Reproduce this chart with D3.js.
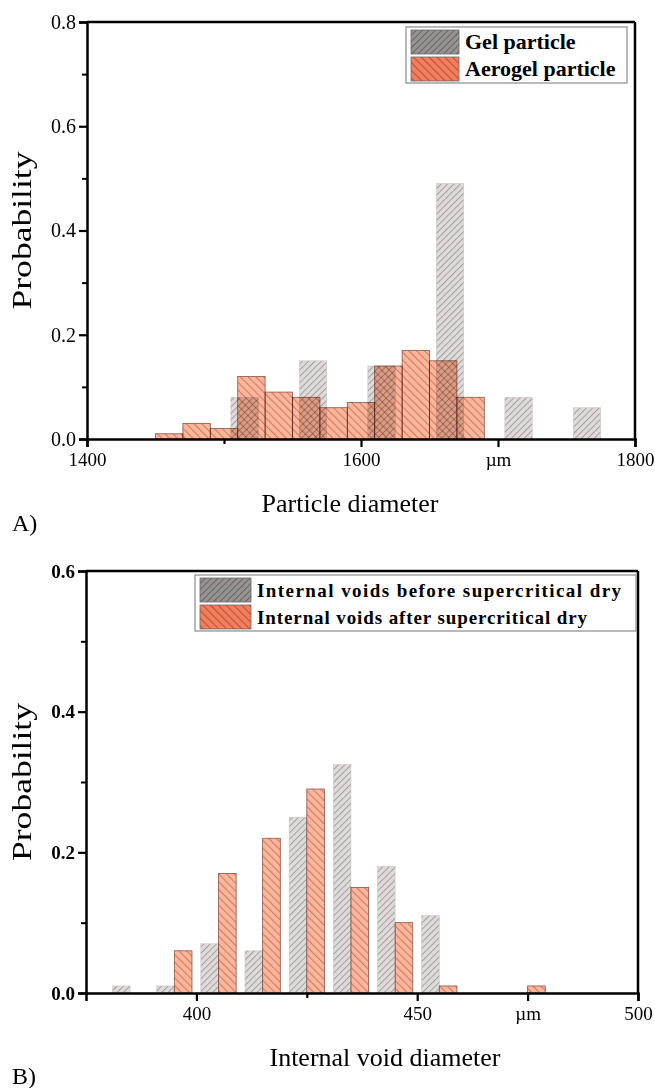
<!DOCTYPE html>
<html>
<head>
<meta charset="utf-8">
<script src="https://cdn.jsdelivr.net/npm/d3@7"></script>
<style>
  body { margin: 0; background: #fff; }
  svg { display: block; font-family: "Liberation Serif", "DejaVu Serif", serif; }
  .axis path, .axis line { stroke: #000; }
  .axis text { fill: #000; }
</style>
</head>
<body>
<div id="chart"></div>
<script>
// ---------- data ----------
// A) particle diameter
var gelCenters = [1515, 1565, 1615, 1665, 1715, 1765];
var gelProb = [0.08, 0.15, 0.14, 0.49, 0.08, 0.06];
var aeroStarts = [1450, 1470, 1490, 1510, 1530, 1550, 1570, 1590, 1610, 1630, 1650, 1670];
var aeroProb = [0.01, 0.03, 0.02, 0.12, 0.09, 0.08, 0.06, 0.07, 0.14, 0.17, 0.15, 0.08];
var xTicksA = [1400, 1500, 1600, 1700, 1800];
var xLabelsA = ["1400", "", "1600", "\u00b5m", "1800"];
var yTicksA = [0, 0.2, 0.4, 0.6, 0.8];

// B) internal void diameter
var voidBins = [385, 395, 405, 415, 425, 435, 445, 455, 465, 475];
var voidBefore = [0.01, 0.01, 0.07, 0.06, 0.25, 0.325, 0.18, 0.11, 0, 0];
var voidAfter = [0, 0.06, 0.17, 0.22, 0.29, 0.15, 0.10, 0.01, 0, 0.01];
var xTicksB = [400, 425, 450, 475, 500];
var xLabelsB = ["400", "", "450", "\u00b5m", "500"];
var yTicksB = [0, 0.2, 0.4, 0.6];

var W = 655, H = 1088;
var svg = d3.select("#chart").append("svg").attr("width", W).attr("height", H);

// hatch patterns
var defs = svg.append("defs");
function hatch(id, bg, line, size, angle, lw) {
    var p = defs.append("pattern")
        .attr("id", id)
        .attr("width", size).attr("height", size)
        .attr("patternUnits", "userSpaceOnUse")
        .attr("patternTransform", "rotate(" + angle + ")");
    p.append("rect").attr("width", size).attr("height", size).attr("fill", bg);
    p.append("line").attr("x1", 0.5).attr("y1", 0).attr("x2", 0.5).attr("y2", size)
        .attr("stroke", line).attr("stroke-width", lw);
}
hatch("grayHatch", "#dedbda", "#a29e9d", 4.5, 45, 1);
hatch("orangeHatch", "#f8b89f", "#dc7658", 5.5, -45, 1.2);
hatch("grayKey", "#979393", "#666262", 4.5, 45, 1);
hatch("orangeKey", "#f27e5d", "#b9533a", 5.5, -45, 1.2);

function panel(cfg) {
    var g = svg.append("g").attr("transform", "translate(" + cfg.left + "," + cfg.top + ")");
    var x = d3.scaleLinear().domain(cfg.xDomain).range([0, cfg.width]);
    var y = d3.scaleLinear().domain(cfg.yDomain).range([cfg.height, 0]);

    // bars
    g.selectAll(".grayBar").data(cfg.gray).enter().append("rect")
        .attr("class", "grayBar")
        .attr("x", function(d) { return x(d.x0); })
        .attr("width", function(d) { return x(d.x1) - x(d.x0); })
        .attr("y", function(d) { return y(d.p); })
        .attr("height", function(d) { return y(0) - y(d.p); })
        .attr("fill", "url(#grayHatch)")
        .attr("stroke", "#cbc7c6").attr("stroke-width", 0.6);

    g.selectAll(".orangeBar").data(cfg.orange).enter().append("rect")
        .attr("class", "orangeBar")
        .attr("x", function(d) { return x(d.x0); })
        .attr("width", function(d) { return x(d.x1) - x(d.x0); })
        .attr("y", function(d) { return y(d.p); })
        .attr("height", function(d) { return y(0) - y(d.p); })
        .attr("fill", "url(#orangeHatch)")
        .attr("stroke", "#8c5446").attr("stroke-width", 0.8)
        .style("mix-blend-mode", "multiply");

    // frame top / right
    g.append("line").attr("x1", 0).attr("x2", cfg.width).attr("y1", 0).attr("y2", 0)
        .attr("stroke", "#000").attr("stroke-width", 2.5);
    g.append("line").attr("x1", cfg.width).attr("x2", cfg.width).attr("y1", 0).attr("y2", cfg.height)
        .attr("stroke", "#000").attr("stroke-width", 2.5);

    // minor ticks
    g.append("g").attr("class", "axis")
        .call(d3.axisLeft(y).tickValues(cfg.yMinor).tickSize(5).tickFormat(""))
        .call(function(s) { s.select(".domain").remove(); s.selectAll("line").attr("stroke-width", 2); });

    // y axis
    var ya = g.append("g").attr("class", "axis")
        .call(d3.axisLeft(y).tickValues(cfg.yTicks).tickSize(8).tickPadding(3).tickFormat(d3.format(".1f")));
    ya.select(".domain").attr("stroke-width", 2.5);
    ya.selectAll("line").attr("stroke-width", 2.2);
    ya.selectAll("text").style("font-size", cfg.yFont + "px").style("font-weight", cfg.yWeight)
        .style("font-family", "Liberation Serif");

    // x axis
    var xa = g.append("g").attr("class", "axis")
        .attr("transform", "translate(0," + cfg.height + ")")
        .call(d3.axisBottom(x).tickValues(cfg.xTicks).tickSize(8).tickPadding(6)
            .tickFormat(function(d, i) { return cfg.xLabels[i]; }));
    xa.select(".domain").attr("stroke-width", 2.5);
    xa.selectAll("line").attr("stroke-width", 2.2)
        .attr("y2", function(d, i) { return cfg.xLabels[i] === "" ? 5 : 8; });
    xa.selectAll("text").style("font-size", "19px").style("font-family", "Liberation Serif");

    // axis titles
    g.append("text")
        .attr("x", cfg.width / 2 + cfg.xTitleShift).attr("y", cfg.height + 73)
        .attr("text-anchor", "middle")
        .style("font-size", "26px")
        .text(cfg.xTitle);
    g.append("text")
        .attr("transform", "translate(" + (-cfg.left + 31) + "," + (cfg.height / 2) + ") rotate(-90)")
        .attr("text-anchor", "middle")
        .style("font-size", "28px")
        .attr("textLength", 158).attr("lengthAdjust", "spacingAndGlyphs")
        .text("Probability");

    // legend
    var lg = g.append("g").attr("transform", "translate(" + cfg.legend.x + "," + cfg.legend.y + ")");
    lg.append("rect").attr("width", cfg.legend.w).attr("height", 56)
        .attr("fill", "#fff").attr("stroke", "#8a8a8a").attr("stroke-width", 1.2);
    var keys = [{ fill: "url(#grayKey)", label: cfg.names[0] }, { fill: "url(#orangeKey)", label: cfg.names[1] }];
    keys.forEach(function(k, i) {
        lg.append("rect").attr("x", 5).attr("y", 3 + i * 27).attr("width", cfg.legend.sw).attr("height", 24)
            .attr("fill", k.fill).attr("stroke", "#6a6a6a").attr("stroke-width", 0.8);
        var t = lg.append("text").attr("x", cfg.legend.sw + 11).attr("y", 22 + i * 27)
            .style("font-size", cfg.legend.font + "px").style("font-weight", "bold")
            .text(k.label);
        if (cfg.legend.tl) t.attr("textLength", cfg.legend.tl[i]).attr("lengthAdjust", "spacing");
    });

    // panel tag
    svg.append("text").attr("x", 12).attr("y", cfg.tagY)
        .style("font-size", "24px").text(cfg.tag);
}

// A
panel({
    left: 87, top: 22, width: 548, height: 417,
    xDomain: [1400, 1800], yDomain: [0, 0.8],
    xTicks: xTicksA, xLabels: xLabelsA,
    yTicks: yTicksA, yMinor: [0.1, 0.3, 0.5, 0.7],
    yFont: 20, yWeight: "normal",
    gray: gelCenters.map(function(c, i) { return { x0: c - 10, x1: c + 10, p: gelProb[i] }; }),
    orange: aeroStarts.map(function(s, i) { return { x0: s, x1: s + 20, p: aeroProb[i] }; }),
    xTitle: "Particle diameter", xTitleShift: -11,
    names: ["Gel particle", "Aerogel particle"],
    legend: { x: 319, y: 5, w: 221, sw: 48, font: 22 },
    tag: "A)", tagY: 531
});

// B
panel({
    left: 86, top: 571, width: 552, height: 422,
    xDomain: [375, 500], yDomain: [0, 0.6],
    xTicks: xTicksB, xLabels: xLabelsB,
    yTicks: yTicksB, yMinor: [0.1, 0.3, 0.5],
    yFont: 19, yWeight: "bold",
    gray: voidBins.map(function(c, i) { return { x0: c - 4, x1: c, p: voidBefore[i] }; }),
    orange: voidBins.map(function(c, i) { return { x0: c, x1: c + 4, p: voidAfter[i] }; }),
    xTitle: "Internal void diameter", xTitleShift: 23,
    names: ["Internal voids before supercritical dry", "Internal voids after supercritical dry"],
    legend: { x: 109, y: 4, w: 441, sw: 51, font: 19, tl: [364, 330] },
    tag: "B)", tagY: 1084
});
</script>
</body>
</html>
